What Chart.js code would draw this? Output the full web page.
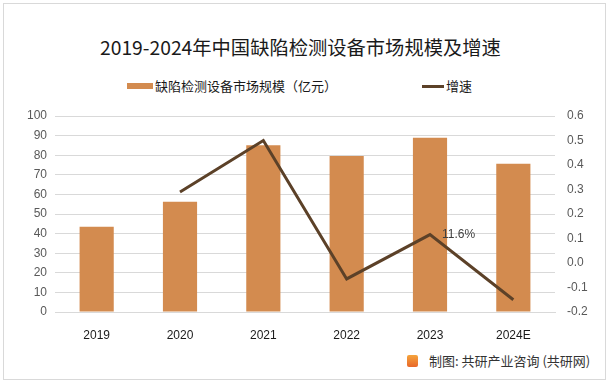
<!DOCTYPE html>
<html lang="zh-CN">
<head>
  <meta charset="UTF-8">
  <title>缺陷检测设备市场规模及增速</title>
  <script src="https://cdn.jsdelivr.net/npm/chart.js"></script>
  <style>
    body { margin: 0; width: 614px; height: 385px; position: relative; background: #fff; font-family: "Noto Sans CJK SC", sans-serif; overflow: hidden; }
    .frame { position: absolute; left: 3px; top: 3px; width: 601px; height: 375px; border: 1px solid #d9d9d9; }
    .title { position: absolute; left: 100px; top: 33px; font-size: 19.3px; line-height: 28px; color: #1a1a1a; white-space: nowrap; }
    .legend { position: absolute; top: 77px; font-size: 13px; line-height: 18px; color: #1a1a1a; display: flex; align-items: center; white-space: nowrap; }
    .box { width: 26px; height: 6px; background: #d38b4f; margin-right: 2px; }
    .ln { width: 22px; height: 3px; background: #5c4128; margin-right: 2px; }
    .src { position: absolute; left: 407px; top: 352px; font-size: 13px; line-height: 18px; color: #333; display: flex; align-items: center; white-space: nowrap; }
    .logo { width: 11px; height: 12px; background: linear-gradient(#f5a43c, #e8672a); border-radius: 2px; margin-right: 11px; }
    canvas { position: absolute; left: 0; top: 0; }
  </style>
</head>
<body>
  <div class="frame"></div>
  <div class="title">2019-2024年中国缺陷检测设备市场规模及增速</div>
  <div class="legend" style="left:127px"><div class="box"></div>缺陷检测设备市场规模（亿元）</div>
  <div class="legend" style="left:422px"><div class="ln"></div>增速</div>
  <div class="src"><div class="logo"></div>制图: 共研产业咨询 (共研网)</div>
  <canvas id="grafico" width="614" height="385"></canvas>

  <script>
    const anos = ["2019", "2020", "2021", "2022", "2023", "2024E"];
    const mercado = [43.5, 56.2, 85.1, 79.6, 88.9, 75.6];
    const crescimento = [null, 0.29, 0.50, -0.065, 0.116, -0.15];
    const rotulos = ["", "", "", "", "11.6%", ""];

    const fonteEixo = { family: "Liberation Sans", size: 12 };

    // rótulo de dados só no ponto 2023
    const rotuloPlugin = {
      id: "rotulo",
      afterDatasetsDraw(chart) {
        const meta = chart.getDatasetMeta(0);
        const ctx = chart.ctx;
        ctx.save();
        ctx.font = "12px 'Liberation Sans'";
        ctx.fillStyle = "#404040";
        ctx.textBaseline = "middle";
        meta.data.forEach((p, i) => {
          if (rotulos[i]) ctx.fillText(rotulos[i], p.x + 12, p.y);
        });
        ctx.restore();
      }
    };

    new Chart(document.getElementById("grafico"), {
      data: {
        labels: anos,
        datasets: [
          {
            type: "line",
            label: "增速",
            data: crescimento,
            yAxisID: "y1",
            borderColor: "#5c4128",
            borderWidth: 3,
            pointRadius: 0,
            tension: 0,
            order: 0
          },
          {
            type: "bar",
            label: "缺陷检测设备市场规模（亿元）",
            data: mercado,
            yAxisID: "y",
            backgroundColor: "#d38b4f",
            categoryPercentage: 1,
            barPercentage: 0.41,
            order: 1
          }
        ]
      },
      options: {
        responsive: false,
        animation: false,
        layout: { padding: { left: 10, right: 14, top: 116, bottom: 43 } },
        plugins: { legend: { display: false }, tooltip: { enabled: false } },
        scales: {
          x: {
            grid: { display: false },
            border: { color: "#d9d9d9" },
            ticks: { color: "#1a1a1a", font: fonteEixo, padding: 8 },
            afterFit(s) { s.height = 30; }
          },
          y: {
            position: "left",
            min: 0, max: 100,
            ticks: { stepSize: 10, color: "#595959", font: fonteEixo, padding: 8 },
            grid: { color: "#d9d9d9", drawTicks: false },
            border: { display: false },
            afterFit(s) { s.width = 45; }
          },
          y1: {
            position: "right",
            min: -0.2, max: 0.6,
            ticks: { stepSize: 0.1, color: "#595959", font: fonteEixo, padding: 12,
              callback: v => v.toFixed(1) },
            grid: { display: false, drawTicks: false },
            border: { display: false },
            afterFit(s) { s.width = 45; }
          }
        }
      },
      plugins: [rotuloPlugin]
    });
  </script>
</body>
</html>
